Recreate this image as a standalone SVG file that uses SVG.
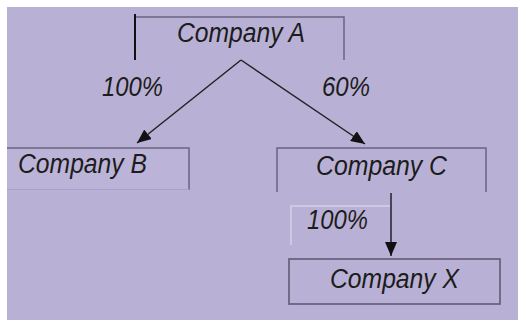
<svg xmlns="http://www.w3.org/2000/svg" width="518" height="320" viewBox="0 0 518 320">
  <defs>
    <marker id="ah" markerWidth="14" markerHeight="12" refX="14" refY="6" orient="auto" markerUnits="userSpaceOnUse">
      <path d="M0,0 L14,6 L0,12 Z" fill="#111"/>
    </marker>
    <style>
      .t { font-family: "Liberation Sans", Arial, sans-serif; font-style: italic; font-size: 27px; fill: #1c1c1c; }
      .edge { stroke: #6a6480; stroke-width: 1.5; fill: none; }
      .hi { stroke: #d6d0ea; stroke-width: 1.5; fill: none; }
      .conn { stroke: #222; stroke-width: 1.5; fill: none; marker-end: url(#ah); }
    </style>
  </defs>
  <rect x="0" y="0" width="518" height="320" fill="#ffffff"/>
  <rect x="7" y="7" width="511" height="313" fill="#b9b1d5"/>

  <g id="companyA">
    <path class="edge" d="M136,17 H344 V60"/>
    <path d="M135,14 V60" stroke="#111" stroke-width="2"/>
    <text class="t" x="177" y="42" textLength="128" lengthAdjust="spacingAndGlyphs">Company A</text>
  </g>

  <g id="companyB">
    <rect x="7" y="148" width="182" height="42" fill="#bcb4d8"/>
    <path class="edge" d="M7,148 H189 V190"/>
    <path d="M7,189.5 H189" stroke="#aaa2c6" stroke-width="1"/>
    <text class="t" x="18" y="173" textLength="129" lengthAdjust="spacingAndGlyphs">Company B</text>
  </g>

  <g id="companyC">
    <path class="edge" d="M277,192 V148 H486 V192"/>
    <text class="t" x="316" y="175" textLength="131" lengthAdjust="spacingAndGlyphs">Company C</text>
  </g>

  <g id="companyX">
    <rect x="289" y="259" width="211" height="45" fill="#b9b1d5" stroke="#6a6480" stroke-width="1.8"/>
    <text class="t" x="330" y="288" textLength="129" lengthAdjust="spacingAndGlyphs">Company X</text>
  </g>

  <g id="connectors">
    <path class="conn" d="M241,60 L137,143"/>
    <path class="conn" d="M241,60 L365,144"/>
    <path class="conn" d="M391,193 L391,256"/>
  </g>

  <g id="labels">
    <text class="t" x="102" y="96" textLength="61" lengthAdjust="spacingAndGlyphs">100%</text>
    <text class="t" x="322" y="96" textLength="48" lengthAdjust="spacingAndGlyphs">60%</text>
    <path class="hi" d="M291,245 V206 H390"/>
    <text class="t" x="307" y="229" textLength="61" lengthAdjust="spacingAndGlyphs">100%</text>
  </g>
</svg>
